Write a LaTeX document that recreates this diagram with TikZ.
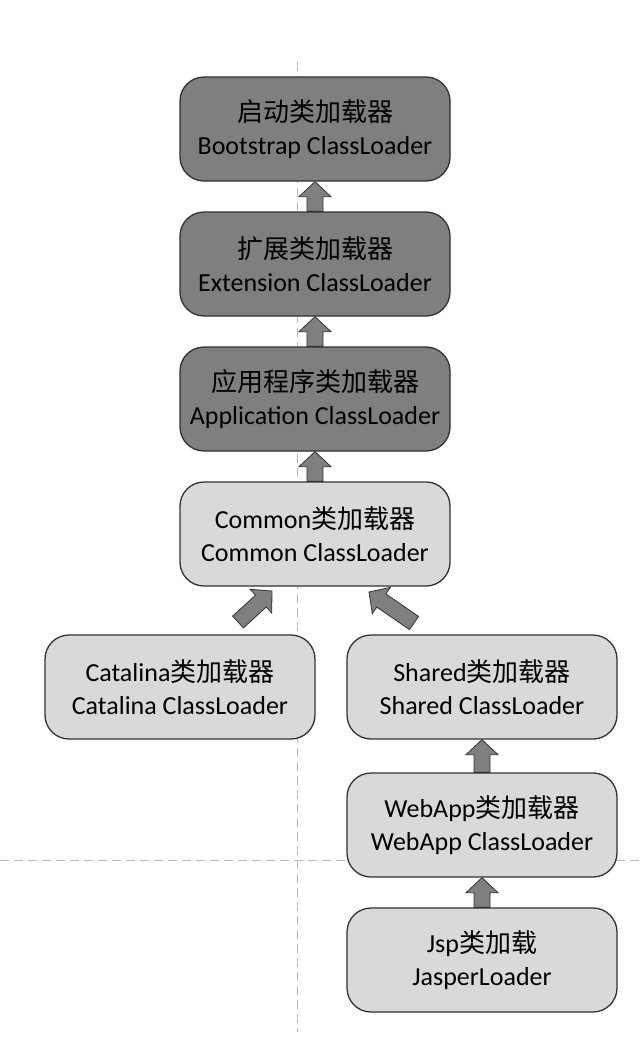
\documentclass[tikz,border=0pt]{standalone}
\usepackage{fontspec}
\setmainfont{Carlito}
\newfontfamily\cjk{Noto Sans CJK SC}
\usetikzlibrary{calc}
\definecolor{darkfill}{RGB}{127,127,127}
\definecolor{lightfill}{RGB}{217,217,217}
\definecolor{boxline}{RGB}{50,50,50}
\definecolor{guidegray}{RGB}{185,185,185}
\newcommand\zh[1]{{\cjk\fontsize{26}{33}\selectfont #1}}
\newcommand\blockarrow[2]{%
  \coordinate (h) at ($(#2)!15pt!(#1)$);
  \draw[blockarr] ($(#1)!8pt!90:(#2)$) -- ($(h)!8pt!90:(#2)$) -- ($(h)!16pt!90:(#2)$) -- (#2)
    -- ($(h)!16pt!-90:(#2)$) -- ($(h)!8pt!-90:(#2)$) -- ($(#1)!8pt!-90:(#2)$) -- cycle;}
\begin{document}
\begin{tikzpicture}[x=1pt,y=-1pt,
  box/.style={draw=boxline, line width=1.3pt, rounded corners=24pt, minimum width=270pt,
    minimum height=104pt, align=center, inner sep=0pt, font=\fontsize{26}{33}\selectfont},
  darkbox/.style={box, fill=darkfill},
  lightbox/.style={box, fill=lightfill},
  guide/.style={draw=guidegray, line width=1pt, dash pattern=on 9pt off 5pt},
  blockarr/.style={fill=darkfill, draw=boxline, line width=0.8pt}]
\useasboundingbox (0,0) rectangle (640,1050);
\draw[guide] (297,62) -- (297,1032);
\draw[guide] (0,860) -- (640,860);

\node[darkbox] (boot) at (315,129) {\zh{启动类加载器}\\Bootstrap ClassLoader};
\node[darkbox] (ext) at (315,264) {\zh{扩展类加载器}\\Extension ClassLoader};
\node[darkbox] (app) at (315,399) {\zh{应用程序类加载器}\\Application ClassLoader};
\node[lightbox] (common) at (315,534) {Common\zh{类加载器}\\Common ClassLoader};
\node[lightbox] (catalina) at (180,687) {Catalina\zh{类加载器}\\Catalina ClassLoader};
\node[lightbox] (shared) at (482,687) {Shared\zh{类加载器}\\Shared ClassLoader};
\node[lightbox] (webapp) at (482,825) {WebApp\zh{类加载器}\\WebApp ClassLoader};
\node[lightbox] (jsp) at (482,960) {Jsp\zh{类加载}\\JasperLoader};

\blockarrow{ext.north}{boot.south}
\blockarrow{app.north}{ext.south}
\blockarrow{common.north}{app.south}
\coordinate (catTail) at (238,622);
\coordinate (catTip) at (272,591);
\coordinate (shTail) at (414,623);
\coordinate (shTip) at (369,592);
\blockarrow{catTail}{catTip}
\blockarrow{shTail}{shTip}
\blockarrow{webapp.north}{shared.south}
\blockarrow{jsp.north}{webapp.south}
\end{tikzpicture}
\end{document}
